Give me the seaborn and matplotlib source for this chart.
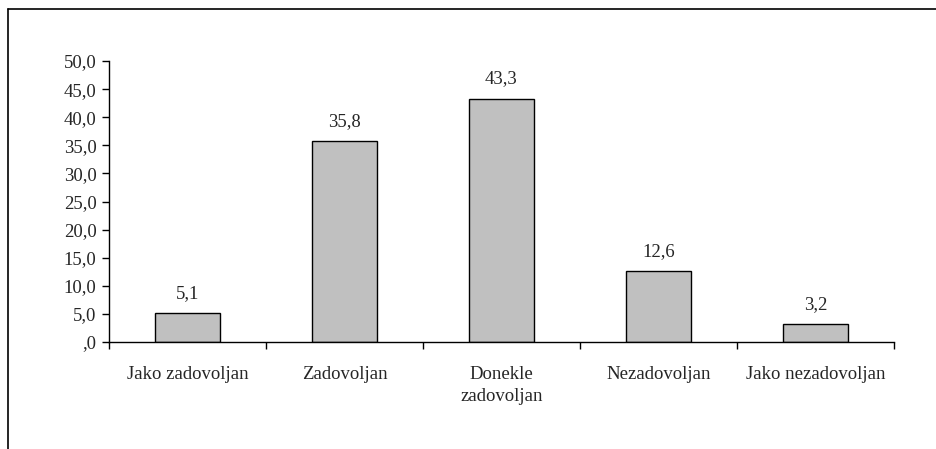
import matplotlib
matplotlib.use("Agg")
import matplotlib.pyplot as plt
import seaborn as sns
import pandas as pd
from matplotlib.lines import Line2D
from matplotlib.ticker import FixedLocator

categories = ["Jako zadovoljan", "Zadovoljan", "Donekle\nzadovoljan", "Nezadovoljan", "Jako nezadovoljan"]
values = [5.1, 35.8, 43.3, 12.6, 3.2]
yticks = [0, 5, 10, 15, 20, 25, 30, 35, 40, 45, 50]

sns.set_style("white")
plt.rcParams["font.family"] = ["Liberation Serif", "DejaVu Serif"]
FS = 13.5

df = pd.DataFrame({"kat": categories, "pct": values})

fig = plt.figure(figsize=(9.36, 4.49), dpi=100)
ax = fig.add_axes([0.1165, 0.2383, 0.955 - 0.1165, 0.864 - 0.2383])
sns.barplot(data=df, x="kat", y="pct", color="#c0c0c0", saturation=1,
            edgecolor="black", linewidth=1, width=0.41, ax=ax)

def fmt(v):
    s = ("%.1f" % v).replace(".", ",")
    return s[1:] if s.startswith("0") else s

ax.set_xlim(-0.5, 4.5)
ax.set_ylim(0, 50)
ax.set_yticks(yticks)
ax.set_yticklabels([fmt(v) for v in yticks], fontsize=FS)
ax.tick_params(axis="y", direction="out", length=5, width=1, color="black", pad=4, left=True)
ax.tick_params(axis="x", which="major", length=0, pad=17, labelsize=FS)
ax.xaxis.set_minor_locator(FixedLocator([-0.5, 0.5, 1.5, 2.5, 3.5, 4.5]))
ax.tick_params(axis="x", which="minor", direction="out", length=5, width=1, color="black", bottom=True)
for lab in ax.get_xticklabels():
    lab.set_linespacing(1.4)
ax.set_xlabel("")
ax.set_ylabel("")

for s in ["top", "right"]:
    ax.spines[s].set_visible(False)
for s in ["left", "bottom"]:
    ax.spines[s].set_color("black")
    ax.spines[s].set_linewidth(1)

for i, v in enumerate(values):
    ax.text(i, v + 2.0, fmt(v), ha="center", va="bottom", fontsize=FS)

# outer chart frame (cropped at right and bottom)
fig.add_artist(Line2D([8 / 936, 1], [1 - 9 / 449, 1 - 9 / 449], color="black", lw=1.2, transform=fig.transFigure))
fig.add_artist(Line2D([8 / 936, 8 / 936], [0, 1 - 9 / 449], color="black", lw=1.2, transform=fig.transFigure))

fig.savefig("out.png", dpi=100)
